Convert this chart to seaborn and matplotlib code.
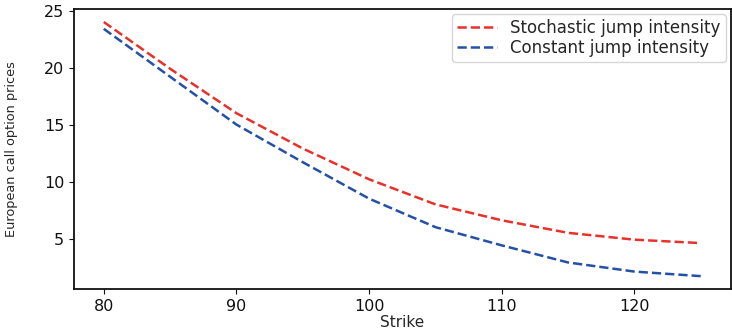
import pandas as pd
import seaborn as sns
import matplotlib.pyplot as plt

# Precios de opciones call europeas
strikes = [80, 85, 90, 95, 100, 105, 110, 115, 120, 125]
stochastic = [24.0, 19.9, 16.0, 12.9, 10.2, 8.0, 6.6, 5.5, 4.9, 4.6]
constant = [23.4, 19.2, 15.0, 11.7, 8.5, 6.0, 4.4, 2.9, 2.1, 1.7]
labels = ['Stochastic jump intensity', 'Constant jump intensity']

df = pd.DataFrame({
    'Strike': strikes * 2,
    'price': stochastic + constant,
    'model': [labels[0]] * len(strikes) + [labels[1]] * len(strikes),
})

sns.set_style('ticks')
plt.rcParams['font.family'] = ['DejaVu Sans']

fig, ax = plt.subplots(figsize=(7.32, 3.32), dpi=100)
sns.lineplot(data=df, x='Strike', y='price', hue='model',
             palette=['#e8312b', '#2550a8'], linewidth=1.8, ax=ax)

# Lineas discontinuas como en el original
for line in ax.get_lines():
    line.set_linestyle('--')

ax.set_xticks([80, 90, 100, 110, 120])
ax.set_yticks([5, 10, 15, 20, 25])
ax.tick_params(labelsize=11.5, colors='#111111')
ax.set_xlabel('Strike', fontsize=11, labelpad=1)
ax.set_ylabel('European call option prices', fontsize=9.3)
ax.yaxis.set_label_coords(-0.085, 0.5)
for s in ax.spines.values():
    s.set_linewidth(1.3)
    s.set_color('#111111')

leg = ax.legend(loc='upper right', fontsize=12, handlelength=2.4,
                labelspacing=0.1, borderpad=0.3, borderaxespad=0.3)
for h in leg.get_lines():
    h.set_linestyle('--')

fig.subplots_adjust(left=0.101, right=0.998, top=0.972, bottom=0.13)
fig.savefig('out.png', dpi=100)
